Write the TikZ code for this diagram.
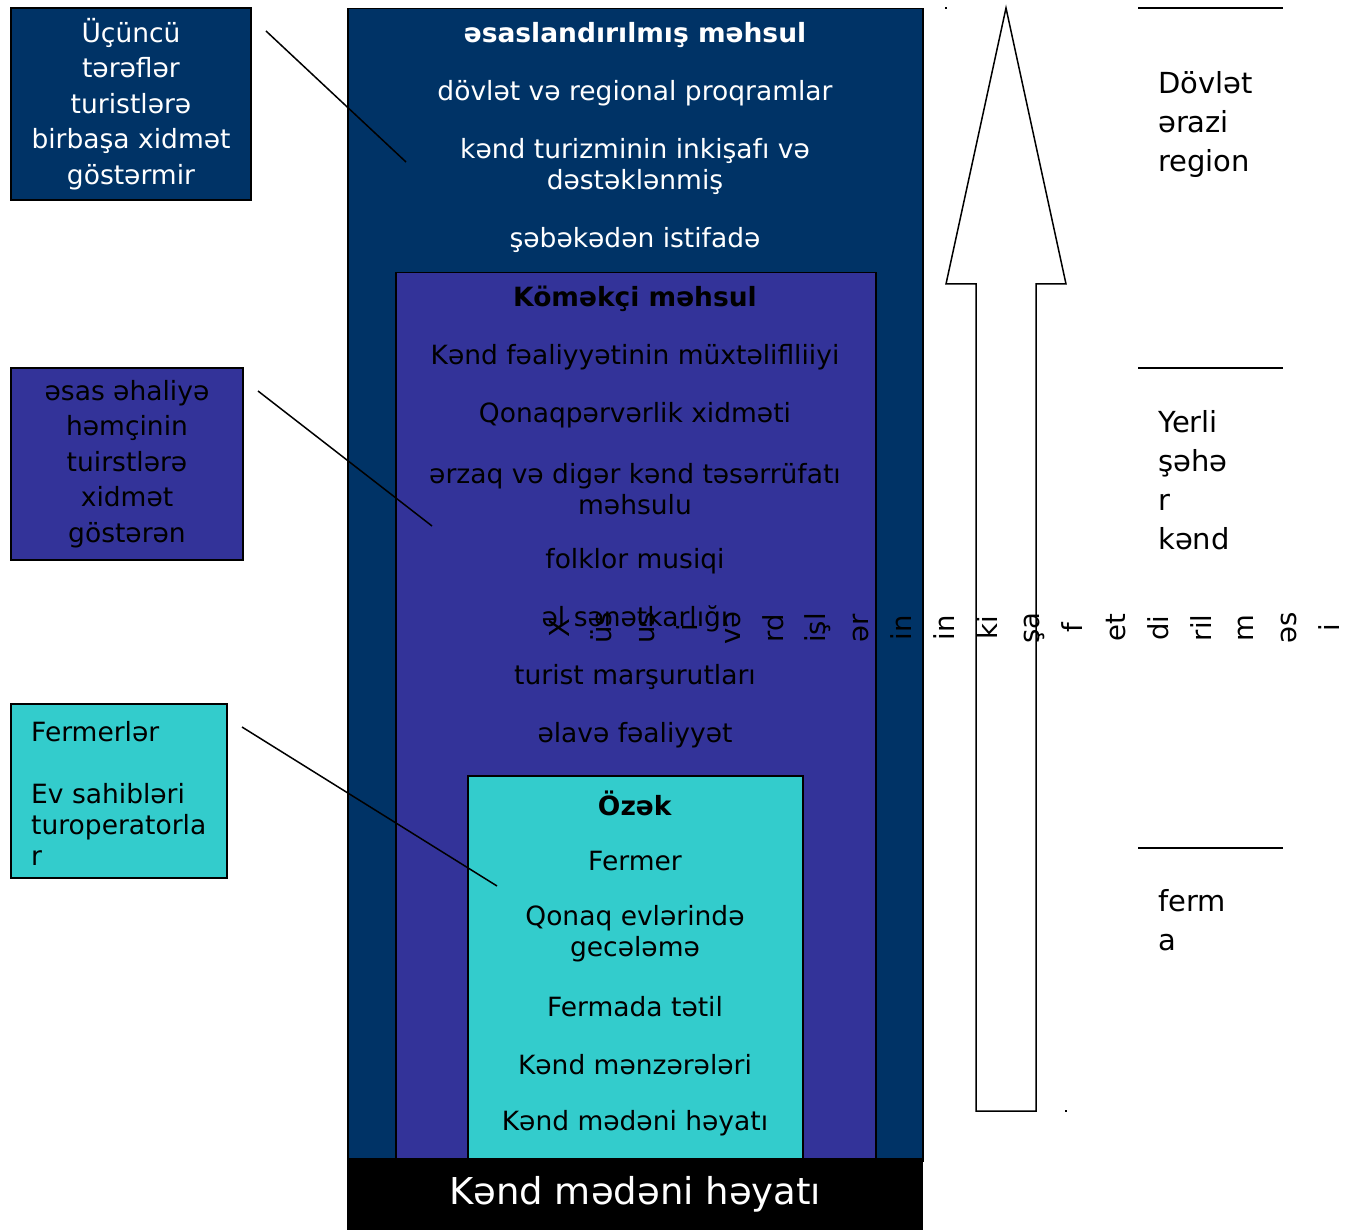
\documentclass[tikz,border=0pt]{standalone}
\usepackage{fontspec}
\setmainfont{DejaVu Sans}
\usepackage{tikz}

\definecolor{navy}{HTML}{003366}
\definecolor{indigo}{HTML}{333399}
\definecolor{aqua}{HTML}{33CCCC}

\tikzset{
  layer/.style={draw=black, line width=1.5pt, inner sep=0pt, anchor=north west},
  sidebox/.style={draw=black, line width=1.5pt, inner sep=0pt, align=center},
  txt/.style={inner sep=0pt, align=center, yshift=-2pt, font=\fontsize{26.5}{31}\selectfont},
  sidetxt/.style={inner sep=0pt, align=left, anchor=west, yshift=-3pt, font=\fontsize{29}{39}\selectfont},
  chunk/.style={inner sep=0pt, rotate=90, anchor=base, font=\fontsize{27.5}{31}\selectfont},
  link/.style={line width=1.5pt}
}

\begin{document}
\begin{tikzpicture}[x=1pt, y=-1pt]
    \useasboundingbox (0,0) rectangle (1345,1230);

    % nested product layers
    \node (outer) [layer, fill=navy, minimum width=575pt, minimum height=1152pt] at (347,8) {};
    \node (middle) [layer, fill=indigo, minimum width=480pt, minimum height=888pt] at (395,272) {};
    \node (core) [layer, fill=aqua, minimum width=335pt, minimum height=385pt] at (467,775) {};
    \node (base) [fill=black, inner sep=0pt, anchor=north west, minimum width=576pt, minimum height=72pt,
        text=white, font=\fontsize{37}{44}\selectfont] at (347,1158) {Kənd mədəni həyatı};

    \node (o1) [txt, text=white] at (635,33) {\textbf{əsaslandırılmış məhsul}};
    \node (o2) [txt, text=white] at (635,91) {dövlət və regional proqramlar};
    \node (o3) [txt, text=white] at (635,164) {kənd turizminin inkişafı və\\dəstəklənmiş};
    \node (o4) [txt, text=white] at (635,238) {şəbəkədən istifadə};

    \node (m1) [txt] at (635,297) {\textbf{Köməkçi məhsul}};
    \node (m2) [txt] at (635,355) {Kənd fəaliyyətinin müxtəliflliiyi};
    \node (m3) [txt] at (635,413) {Qonaqpərvərlik xidməti};
    \node (m4) [txt] at (635,487) {ərzaq və digər kənd təsərrüfatı\\məhsulu};
    \node (m5) [txt] at (635,559) {folklor musiqi};
    \node (m6) [txt] at (635,617) {əl sənətkarlığı};
    \node (m7) [txt] at (635,675) {turist marşurutları};
    \node (m8) [txt] at (635,733) {əlavə fəaliyyət};

    \node (c1) [txt] at (635,801) {\textbf{Özək}};
    \node (c2) [txt] at (635,859) {Fermer};
    \node (c3) [txt] at (635,932) {Qonaq evlərində\\gecələmə};
    \node (c4) [txt] at (635,1005) {Fermada tətil};
    \node (c5) [txt] at (635,1063) {Kənd mənzərələri};
    \node (c6) [txt] at (635,1121) {Kənd mədəni həyatı};

    % boxes on the left
    \node (third) [sidebox, fill=navy, text=white, minimum width=240pt, minimum height=192pt,
        font=\fontsize{26.5}{35.5}\selectfont] at (131,104)
        {Üçüncü\\tərəflər\\turistlərə\\birbaşa xidmət\\göstərmir};
    \node (locals) [sidebox, fill=indigo, minimum width=232pt, minimum height=192pt,
        font=\fontsize{26.5}{35.5}\selectfont] at (127,464)
        {əsas əhaliyə\\həmçinin\\tuirstlərə\\xidmət\\göstərən};
    \node (farmers) [sidebox, fill=aqua, minimum width=216pt, minimum height=174pt] at (119,791) {};
    \node (farmtxt) [txt, align=left, anchor=west] at (31,791)
        {Fermerlər\\[31pt]Ev sahibləri\\turoperatorla\\r};

    \coordinate (l1a) at (266,31);  \coordinate (l1b) at (406,162);
    \coordinate (l2a) at (258,391); \coordinate (l2b) at (432,526);
    \coordinate (l3a) at (242,727); \coordinate (l3b) at (497,886);
    \draw [link] (l1a) -- (l1b);
    \draw [link] (l2a) -- (l2b);
    \draw [link] (l3a) -- (l3b);

    % arrow and levels
    \draw [line width=1.5pt, fill=white] (1006,8) -- (946,284) -- (976,284) -- (976,1111)
        -- (1036,1111) -- (1036,284) -- (1066,284) -- cycle;
    \fill (945,7) rectangle (947,9);
    \fill (1065,1110) rectangle (1067,1112);

    \foreach \y in {8,368,848}
        \draw [link] (1138,\y) -- (1283,\y);

    \node (lvl1) [sidetxt] at (1158,122) {Dövlət\\ərazi\\region};
    \node (lvl2) [sidetxt] at (1158,477) {Yerli\\şəhə\\r\\kənd};
    \node (lvl3) [sidetxt] at (1158,917) {ferm\\a};

    \foreach \w [count=\i from 0] in {X,üs,us,i,və,rd,işl,ər,in,in,ki,şa,f,et,di,ril,m,əs,i}
        \node (ch\i) [chunk] at (569+42.8*\i,628) {\w};
\end{tikzpicture}
\end{document}
